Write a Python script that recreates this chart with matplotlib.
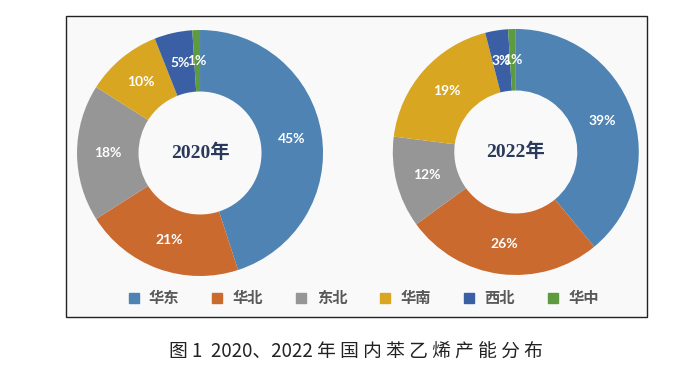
import matplotlib
matplotlib.use('Agg')
import matplotlib.pyplot as plt
from matplotlib.patches import Rectangle
from matplotlib.lines import Line2D

plt.rcParams['font.family'] = ['Noto Sans CJK SC', 'DejaVu Sans']

regions = ['华东', '华北', '东北', '华南', '西北', '华中']
share_2020 = [45, 21, 18, 10, 5, 1]
share_2022 = [39, 26, 12, 19, 3, 1]
years = ['2020年', '2022年']
colors = ['#4e83b4', '#cb6a2f', '#969696', '#d9a622', '#3b5fa5', '#5e9a40']
caption = '图 1  2020、2022 年 国 内 苯 乙 烯 产 能 分 布'

fig = plt.figure(figsize=(6.76, 3.75), dpi=100)

# frame box behind the charts
fig.patches.append(Rectangle((0.0976, 0.1547), 0.8594, 0.8023, transform=fig.transFigure,
                             facecolor='#f9f9f9', edgecolor='#222222', lw=1.0, zorder=-5))

axes_pos = [[0.1139, 0.264, 0.364, 0.656], [0.581, 0.2667, 0.364, 0.656]]
for pos, vals, year in zip(axes_pos, [share_2020, share_2022], years):
    ax = fig.add_axes(pos)
    ax.patch.set_visible(False)
    wedges, texts, autotexts = ax.pie(vals, colors=colors, startangle=90, counterclock=False,
                                      autopct=lambda p: f'{p:.0f}%', pctdistance=0.75,
                                      wedgeprops=dict(width=0.5, edgecolor='none'),
                                      textprops=dict(color='white', fontsize=10, fontweight='bold',
                                                     family=['Lato', 'DejaVu Sans']))
    ax.text(0, 0, year, ha='center', va='center', fontsize=14, fontweight='bold',
            color='#2b3a5c', family=['Liberation Serif', 'Noto Sans CJK SC'])
    ax.set_xlim(-1, 1)
    ax.set_ylim(-1, 1)
    ax.axis('off')

handles = [Line2D([], [], marker='s', ls='none', color=c, markersize=7) for c in colors]
leg = fig.legend(handles, regions, loc='center', bbox_to_anchor=(0.534, 0.205), ncol=6,
                 frameon=False, handlelength=1.4, handletextpad=0.3, columnspacing=1.8,
                 prop=dict(family='Noto Sans CJK SC', weight='bold', size=11))
for t in leg.get_texts():
    t.set_color('#595959')

fig.text(0.527, 0.064, caption, ha='center', va='center', fontsize=13.5, color='#222222')

fig.savefig('out.png', dpi=100)
